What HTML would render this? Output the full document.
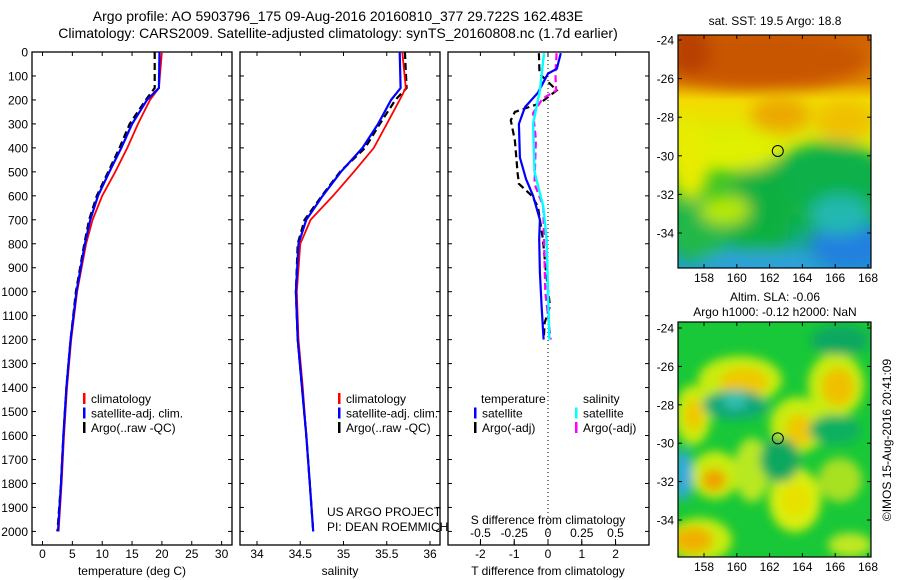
<!DOCTYPE html>
<html><head><meta charset="utf-8">
<style>
html,body{margin:0;padding:0;background:#fff;}
svg{display:block;font-family:"Liberation Sans",sans-serif;}
</style></head>
<body>
<svg id="fig" width="900" height="580" viewBox="0 0 900 580" xmlns="http://www.w3.org/2000/svg">
<defs>
  <filter id="blur1" x="-20%" y="-20%" width="140%" height="140%"><feGaussianBlur stdDeviation="8"/></filter>
  <filter id="blur2" x="-20%" y="-20%" width="140%" height="140%"><feGaussianBlur stdDeviation="5"/></filter>
  <clipPath id="clipTop"><rect x="678" y="35" width="193" height="233"/></clipPath>
  <clipPath id="clipBot"><rect x="678" y="322" width="193" height="235"/></clipPath>
  <linearGradient id="sstBase" x1="0" y1="0" x2="0" y2="1">
    <stop offset="0" stop-color="#d06000"/>
    <stop offset="0.2" stop-color="#e08800"/>
    <stop offset="0.28" stop-color="#f4dc00"/>
    <stop offset="0.5" stop-color="#d4f000"/>
    <stop offset="0.6" stop-color="#40c820"/>
    <stop offset="0.8" stop-color="#10b050"/>
    <stop offset="1" stop-color="#20a0d0"/>
  </linearGradient>
</defs>
<g font-size="14" text-anchor="middle" fill="#000">
  <text x="338" y="21">Argo profile: AO 5903796_175 09-Aug-2016 20160810_377 29.722S 162.483E</text>
  <text x="338" y="38">Climatology: CARS2009. Satellite-adjusted climatology: synTS_20160808.nc (1.7d earlier)</text>
</g>
<g id="panels"></g>
<g id="maps"></g>
</svg>
<script>
// ---- data ----
const depthsT = [0, 150, 200, 300, 400, 500, 600, 700, 800, 1000, 1200, 1400, 1600, 1800, 2000];
const tempClim = [20.0, 19.5, 18.0, 16.0, 14.2, 12.2, 10.0, 8.4, 7.3, 5.8, 4.8, 4.1, 3.6, 3.2, 2.7];
const tempSat = [19.6, 19.5, 17.5, 15.0, 13.2, 11.2, 9.3, 8.0, 7.1, 5.7, 4.7, 4.0, 3.5, 3.1, 2.6];
const tempArgo = [18.8, 18.8, 17.3, 14.6, 12.9, 11.0, 9.1, 7.8, 7.0, 5.6, 4.7, 4.0, 3.5, 3.1, 2.5];
const salClim = [35.68, 35.72, 35.65, 35.50, 35.35, 35.12, 34.88, 34.62, 34.50, 34.46, 34.48, 34.53, 34.57, 34.61, 34.65];
const salSat = [35.65, 35.66, 35.55, 35.40, 35.22, 34.97, 34.76, 34.57, 34.48, 34.45, 34.47, 34.52, 34.57, 34.61, 34.65];
const salArgo = [35.71, 35.73, 35.60, 35.42, 35.25, 34.96, 34.75, 34.55, 34.47, 34.45, 34.47, 34.52, 34.57, 34.61, 34.65];
const diffDepths = [5, 70, 90, 170, 230, 300, 440, 530, 600, 700, 780, 920, 1060, 1200];
const dTsat = [0.38, 0.26, 0.0, -0.3, -0.68, -0.86, -0.83, -0.65, -0.44, -0.24, -0.26, -0.24, -0.19, -0.13];
const dTargoDepths = [5, 90, 160, 215, 250, 285, 370, 505, 550, 600, 645, 780, 920, 1060, 1130, 1190];
const dTargo = [-0.27, -0.25, 0.26, -0.25, -0.98, -1.1, -0.98, -0.9, -0.86, -0.48, -0.3, -0.15, -0.06, 0.06, -0.1, -0.12];
const dSsatDepths = [5, 160, 300, 500, 645, 780, 1000, 1200];
const dSsat = [-0.03, -0.06, -0.11, -0.10, -0.035, -0.01, 0.0, 0.01];
const dSargoDepths = [5, 90, 160, 195, 255, 365, 550, 645, 780, 1000, 1200];
const dSargo = [0.064, 0.055, 0.06, -0.04, -0.11, -0.09, -0.10, -0.035, -0.03, -0.02, 0.02];
const depthTicks = [0,100,200,300,400,500,600,700,800,900,1000,1100,1200,1300,1400,1500,1600,1700,1800,1900,2000];
const tempTicks = [0,5,10,15,20,25,30];
const salTicks = [34,34.5,35,35.5,36];
const tdTicks = [-2,-1,0,1,2];
const sdTicks = [-0.5,-0.25,0,0.25,0.5];
const sdTickLabels = ["-0.5","-0.25","0","0.25","0.5"];
const latTicks = [24,26,28,30,32,34];
const lonTicks = [158,160,162,164,166,168];
const argoLon = 162.5, argoLat = 29.75;

const NS = "http://www.w3.org/2000/svg";
function mk(tag, attrs, parent){const e=document.createElementNS(NS,tag);for(const k in attrs)e.setAttribute(k,attrs[k]);parent.appendChild(e);return e;}
const Y0=52, Y1=545;
const yD = d => Y0 + d*0.2397;
const xT = t => 42.5 + t*5.97;
const xS = s => 257 + (s-34)*86.5;
const xTd = t => 548 + t*33.8;
const xSd = s => 548 + s*135;

const P = document.getElementById('panels');
function panelBox(x0,x1,name){
  const r = mk('rect',{x:x0,y:Y0,width:x1-x0,height:Y1-Y0,fill:'none',stroke:'#000','stroke-width':1.3},P);
  
  
  depthTicks.forEach(d=>{
    const y=yD(d);
    mk('line',{x1:x0,y1:y,x2:x0+4,y2:y,stroke:'#000'},P);
    mk('line',{x1:x1-4,y1:y,x2:x1,y2:y,stroke:'#000'},P);
  });
}
function path(xs, ds, fx, color, w, dash, name){
  let d='';
  xs.forEach((v,i)=>{d+=(i?'L':'M')+fx(v).toFixed(1)+','+yD(ds[i]).toFixed(1);});
  const p=mk('path',{d:d,fill:'none',stroke:color,'stroke-width':w},P);
  if(dash)p.setAttribute('stroke-dasharray',dash);
  
  
}
function txt(x,y,s,size,anchor,name,parent){
  const t=mk('text',{x:x,y:y,'font-size':size,'text-anchor':anchor||'start',fill:'#000'},parent||P);
  t.textContent=s;
  
  
  return t;
}
// panel 1
panelBox(32,232,'temperature-panel');
depthTicks.forEach(d=>{txt(28,yD(d)+4.5,String(d),12,'end','depth-tick-label');});
tempTicks.forEach(t=>{
  mk('line',{x1:xT(t),y1:Y1,x2:xT(t),y2:Y1-4,stroke:'#000'},P);
  mk('line',{x1:xT(t),y1:Y0,x2:xT(t),y2:Y0+4,stroke:'#000'},P);
  txt(xT(t),558,String(t),12,'middle','temperature-tick-label');
});
txt(132,575,'temperature (deg C)',12,'middle','temperature-axis-title');
path(tempArgo,depthsT,xT,'#000',2.2,'7,4','temp-argo-line');
path(tempClim,depthsT,xT,'#f00',1.8,null,'temp-climatology-line');
path(tempSat,depthsT,xT,'#00f',2.2,null,'temp-satellite-line');
// panel 2
panelBox(240,440,'salinity-panel');
salTicks.forEach(s=>{
  mk('line',{x1:xS(s),y1:Y1,x2:xS(s),y2:Y1-4,stroke:'#000'},P);
  mk('line',{x1:xS(s),y1:Y0,x2:xS(s),y2:Y0+4,stroke:'#000'},P);
  txt(xS(s),558,String(s),12,'middle','salinity-tick-label');
});
txt(340,575,'salinity',12,'middle','salinity-axis-title');
path(salArgo,depthsT,xS,'#000',2.2,'7,4','sal-argo-line');
path(salClim,depthsT,xS,'#f00',1.8,null,'sal-climatology-line');
path(salSat,depthsT,xS,'#00f',2.2,null,'sal-satellite-line');
txt(327,516,'US ARGO PROJECT',12,'start','project-label');
txt(327,531,'PI: DEAN ROEMMICH',12,'start','pi-label');
// panel 3
panelBox(448,649,'difference-panel');
mk('line',{x1:548,y1:Y0,x2:548,y2:Y1,stroke:'#000','stroke-dasharray':'1,3'},P);
tdTicks.forEach(t=>{
  mk('line',{x1:xTd(t),y1:Y1,x2:xTd(t),y2:Y1-4,stroke:'#000'},P);
  mk('line',{x1:xTd(t),y1:Y0,x2:xTd(t),y2:Y0+4,stroke:'#000'},P);
  txt(xTd(t),558,String(t),12,'middle','t-diff-tick-label');
});
sdTicks.forEach((s,i)=>{
  mk('line',{x1:xSd(s),y1:Y1,x2:xSd(s),y2:Y1-6,stroke:'#000'},P);
  txt(xSd(s),537,sdTickLabels[i],12,'middle','s-diff-tick-label');
});
txt(548,524,'S difference from climatology',12,'middle','s-diff-axis-title');
txt(548,575,'T difference from climatology',12,'middle','t-diff-axis-title');
path(dTargo,dTargoDepths,xTd,'#000',2.2,'7,4','t-diff-argo-line');
path(dSargo,dSargoDepths,xSd,'#f0f',2.2,'7,4','s-diff-argo-line');
path(dTsat,diffDepths,xTd,'#00f',2.2,null,'t-diff-satellite-line');
path(dSsat,dSsatDepths,xSd,'#0ff',2.4,null,'s-diff-satellite-line');
// legends
function leg(x,y,c,label,name){
  const r=mk('rect',{x:x,y:y-10,width:2.5,height:11,fill:c},P);
  
  
  txt(x+8,y,label,12,'start',name);
}
[[83,'#f00','climatology'],[83,'#00f','satellite-adj. clim.'],[83,'#000','Argo(..raw -QC)']].forEach((a,i)=>leg(a[0],403+i*14.5,a[1],a[2],'temp-legend-entry'));
[[338,'#f00','climatology'],[338,'#00f','satellite-adj. clim.'],[338,'#000','Argo(..raw -QC)']].forEach((a,i)=>leg(a[0],403+i*14.5,a[1],a[2],'sal-legend-entry'));
txt(481,403,'temperature',12,'start','legend-temperature-header');
txt(583,403,'salinity',12,'start','legend-salinity-header');
leg(474,417.5,'#00f','satellite','legend-t-satellite');
leg(474,432,'#000','Argo(-adj)','legend-t-argo');
leg(575,417.5,'#0ff','satellite','legend-s-satellite');
leg(575,432,'#f0f','Argo(-adj)','legend-s-argo');

// ---- maps ----
const M=document.getElementById('maps');
const lonX = lon => 704 + (lon-158)*16.4;
function mapFrame(name){
  const g=mk('g',{},M);
  
  
  return g;
}
// top SST map
const sstY = lat => 40 + (lat-24)*19.3;
const gT = mapFrame('sst-map');
const gTc = mk('g',{'clip-path':'url(#clipTop)'},gT);
mk('rect',{x:678,y:35,width:193,height:233,fill:'url(#sstBase)'},gTc);
const gTb = mk('g',{filter:'url(#blur1)'},gTc);
[
 [760,60,110,28,'#c85400'],[690,50,20,25,'#b84000'],[780,115,30,18,'#eca800'],
 [830,180,60,38,'#10b048'],[760,212,30,60,'#10b040'],[700,232,30,30,'#20b848'],
 [725,210,25,15,'#b8e800'],[850,245,40,25,'#2080e0'],[760,262,60,10,'#30a0e0'],
 [840,215,30,20,'#20b8b0'],[690,160,20,40,'#e8ec00'],[845,120,30,20,'#f0c000'],
 [740,150,40,20,'#e0f000']
].forEach(e=>mk('ellipse',{cx:e[0],cy:e[1],rx:e[2],ry:e[3],fill:e[4]},gTb));
mk('rect',{x:678,y:35,width:193,height:233,fill:'none',stroke:'#000','stroke-width':1.2},gT);
// bottom SLA map
const slaY = lat => 328 + (lat-24)*19.2;
const gB = mapFrame('sla-map');
const gBc = mk('g',{'clip-path':'url(#clipBot)'},gB);
mk('rect',{x:678,y:322,width:193,height:235,fill:'#18c838'},gBc);
const gBb = mk('g',{filter:'url(#blur2)'},gBc);
[
 [740,380,42,24,'#c8ec10'],[744,382,24,14,'#f0c800'],
 [836,385,28,32,'#c8ec10'],[838,387,16,19,'#f0c000'],
 [798,425,28,28,'#c8ec10'],[800,430,14,16,'#f0c800'],
 [693,415,18,30,'#c8ec10'],[694,415,9,16,'#f0c800'],
 [715,475,24,24,'#c8ec10'],[714,480,12,11,'#f0a000'],
 [795,500,26,32,'#d8ee10'],[796,500,14,16,'#e8e000'],
 [700,540,32,22,'#c8ec10'],[693,540,20,13,'#f0b000'],
 [752,470,18,32,'#b8e820'],[840,480,22,22,'#a8e020'],[850,545,22,12,'#c0e820'],
 [735,405,32,15,'#10a878'],[735,400,12,9,'#30c0b0'],[780,460,20,22,'#10a860'],
 [835,430,26,15,'#10b060'],[683,475,9,26,'#30a8e0'],[840,340,30,15,'#10a860']
].forEach(e=>mk('ellipse',{cx:e[0],cy:e[1],rx:e[2],ry:e[3],fill:e[4]},gBb));
mk('rect',{x:678,y:322,width:193,height:235,fill:'none',stroke:'#000','stroke-width':1.2},gB);

function mapAxes(g, yF, top, bottom){
  latTicks.forEach(l=>{
    const y=yF(l);
    mk('line',{x1:678,y1:y,x2:682,y2:y,stroke:'#000'},g);
    mk('line',{x1:867,y1:y,x2:871,y2:y,stroke:'#000'},g);
    txt(674,y+4.5,'-'+l,12,'end','lat-tick-label',g);
  });
  lonTicks.forEach(l=>{
    const x=lonX(l);
    mk('line',{x1:x,y1:bottom,x2:x,y2:bottom-4,stroke:'#000'},g);
    mk('line',{x1:x,y1:top,x2:x,y2:top+4,stroke:'#000'},g);
    txt(x,bottom+14,String(l),12,'middle','lon-tick-label',g);
  });
  const c=mk('circle',{cx:lonX(argoLon),cy:yF(argoLat),r:5.5,fill:'none',stroke:'#000','stroke-width':1},g);
  
  
}
mapAxes(gT,sstY,35,268);
mapAxes(gB,slaY,322,557);
txt(775,25,'sat. SST: 19.5 Argo: 18.8',12,'middle','sst-map-title',M);
txt(775,301,'Altim. SLA: -0.06',12,'middle','sla-map-title-1',M);
txt(775,316,'Argo h1000: -0.12 h2000: NaN',12,'middle','sla-map-title-2',M);
const ct=txt(0,0,'©IMOS 15-Aug-2016 20:41:09',12,'middle','imos-timestamp',M);
ct.setAttribute('transform','translate(891,440) rotate(-90)');
</script>
</body></html>
